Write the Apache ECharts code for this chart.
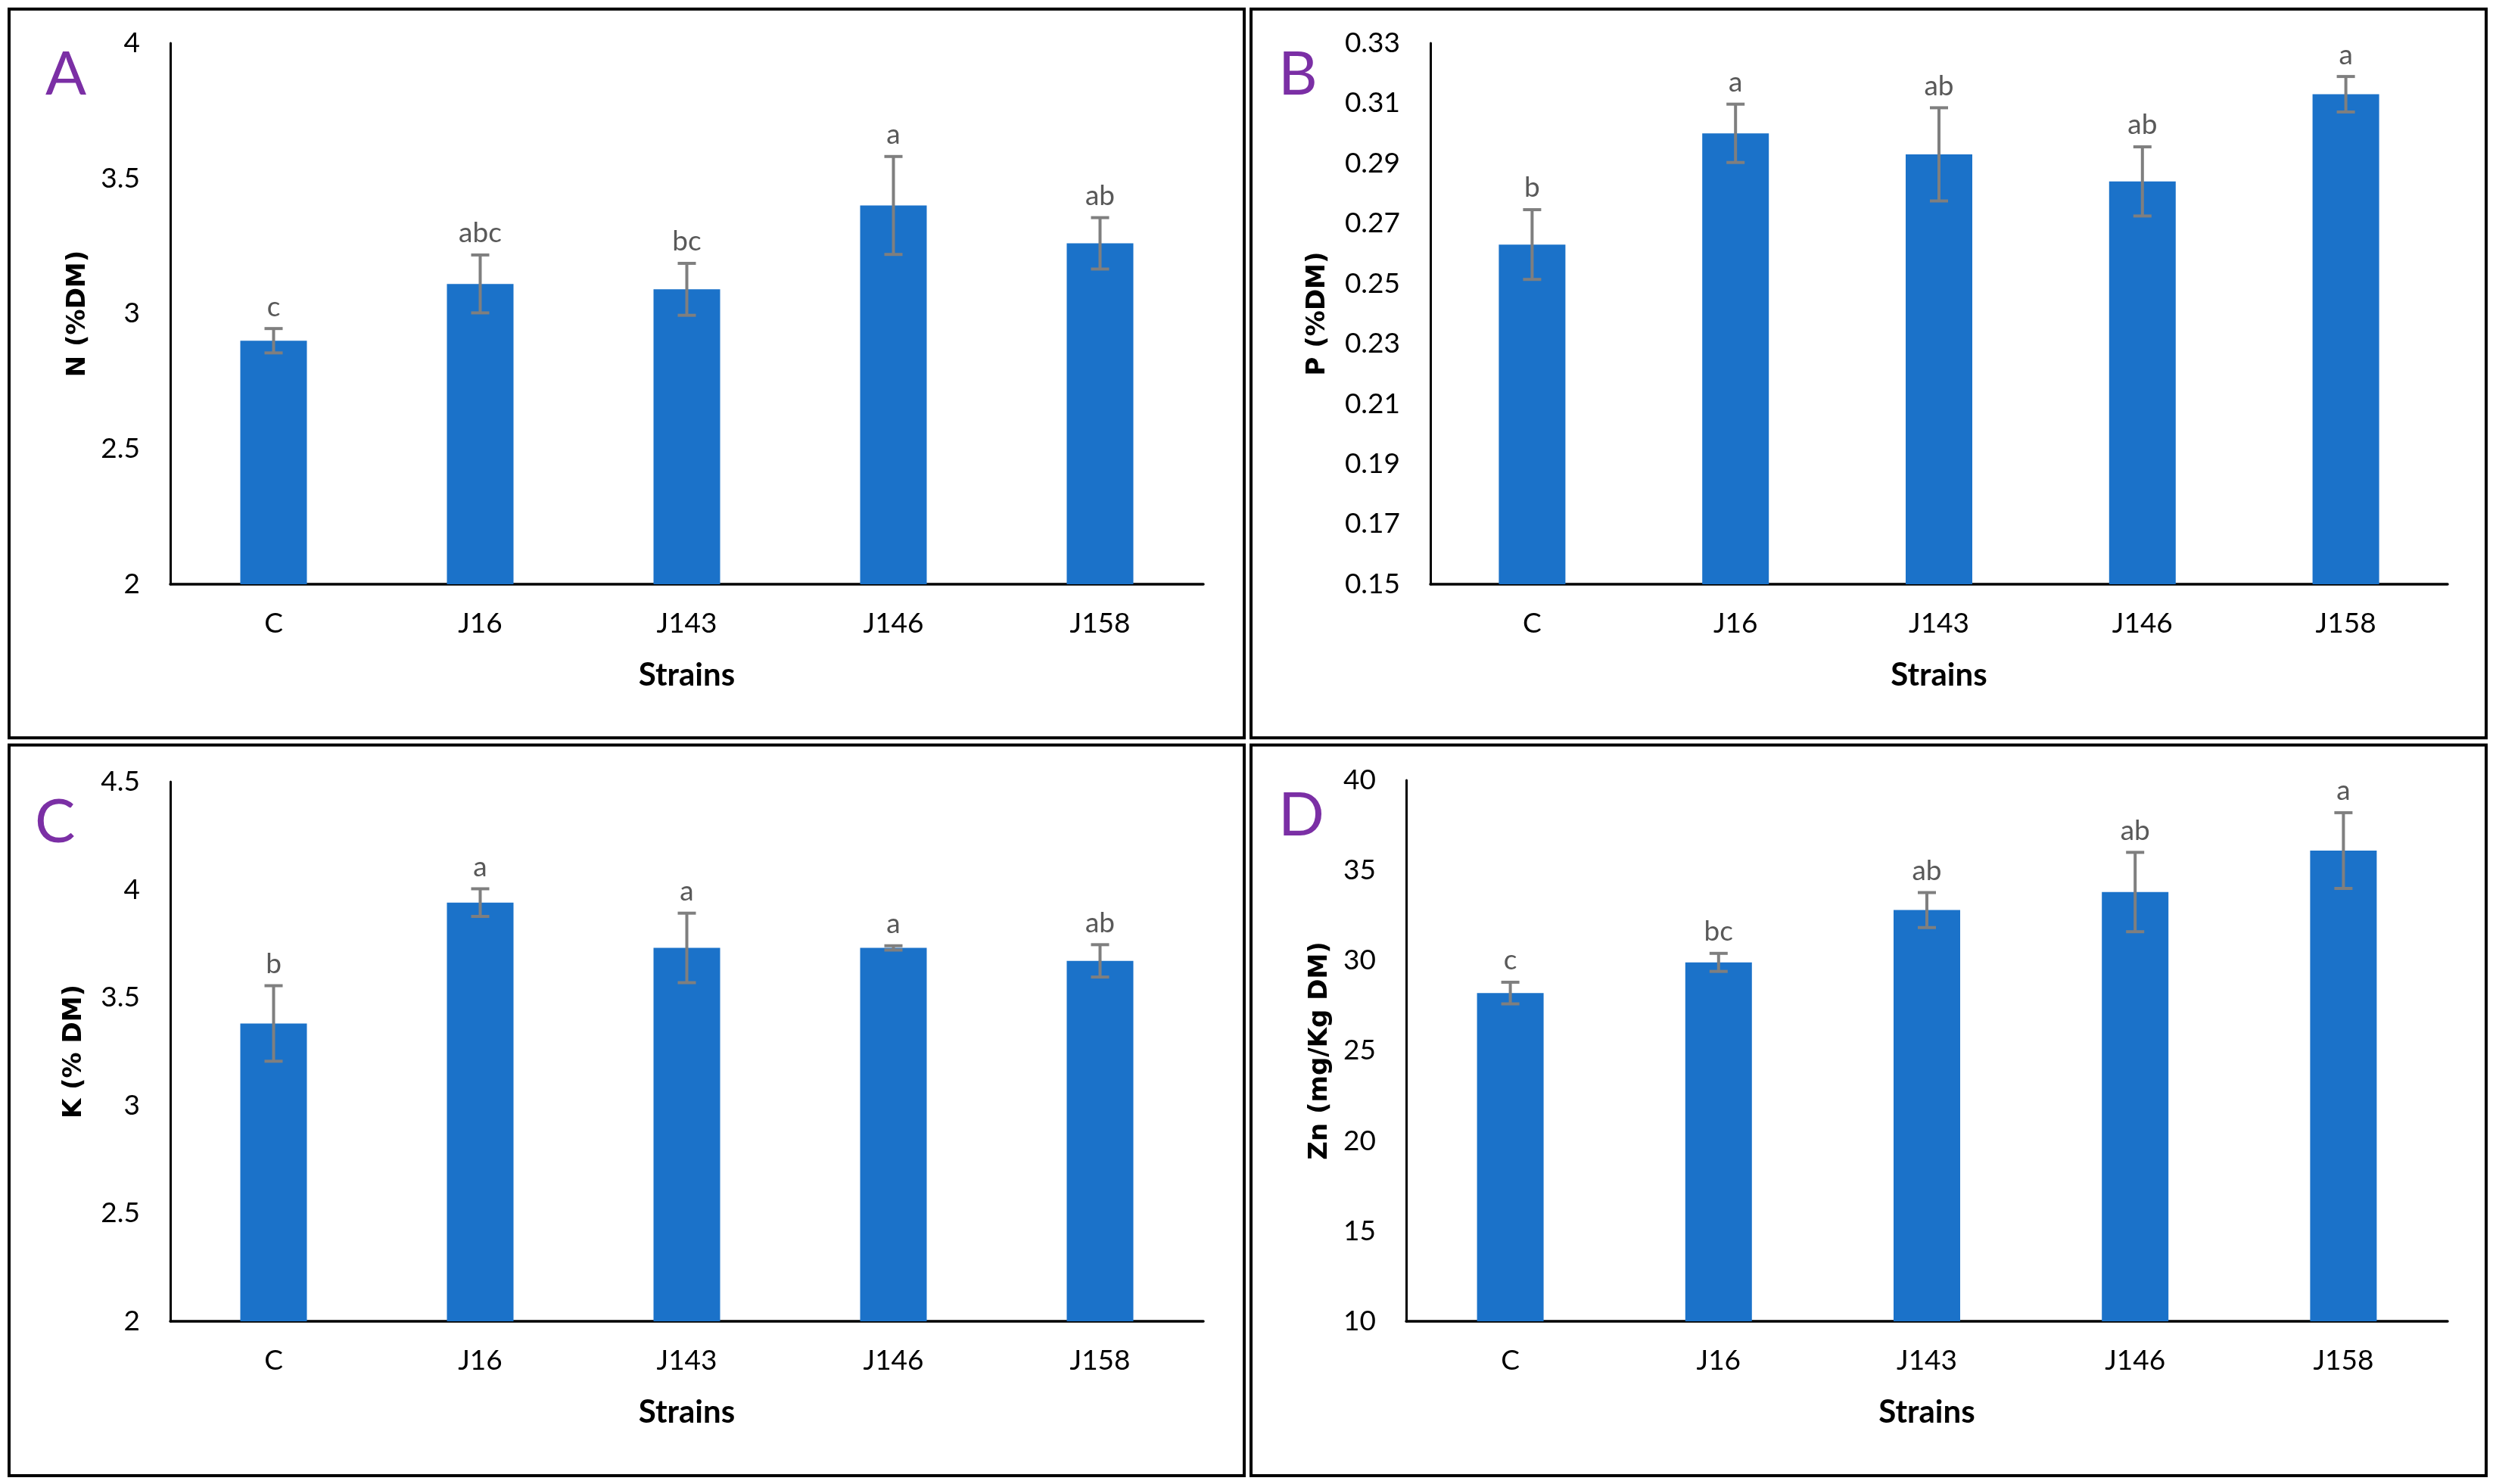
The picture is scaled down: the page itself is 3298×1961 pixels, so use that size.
<!DOCTYPE html>
<html>
<head>
<meta charset="utf-8">
<script src="https://cdn.jsdelivr.net/npm/echarts@6/dist/echarts.min.js"></script>
<style>
html,body{margin:0;padding:0;background:#fff;}
#chart{width:3298px;height:1961px;}
</style>
</head>
<body>
<div id="chart"></div>
<script>
// ---------- data ----------
const strains = ['C', 'J16', 'J143', 'J146', 'J158'];

const nMean = [2.90, 3.11, 3.09, 3.40, 3.26];
const nErr = [0.045, 0.107, 0.096, 0.181, 0.095];
const nLetters = ['c', 'abc', 'bc', 'a', 'ab'];

const pMean = [0.263, 0.300, 0.293, 0.284, 0.313];
const pErr = [0.0116, 0.0097, 0.0155, 0.0115, 0.0059];
const pLetters = ['b', 'a', 'ab', 'ab', 'a'];

const kMean = [3.38, 3.94, 3.73, 3.73, 3.67];
const kErr = [0.175, 0.064, 0.161, 0.010, 0.075];
const kLetters = ['b', 'a', 'a', 'a', 'ab'];

const znMean = [28.2, 29.9, 32.8, 33.8, 36.1];
const znErr = [0.6, 0.5, 0.97, 2.2, 2.1];
const znLetters = ['c', 'bc', 'ab', 'ab', 'a'];

const panelLetters = ['A', 'B', 'C', 'D'];
const yTitles = ['N (%DM)', 'P (%DM)', 'K (% DM)', 'Zn (mg/Kg DM)'];
const xTitle = 'Strains';

// ---------- styling ----------
const FONT = 'Lato';
const BAR_COLOR = '#1b72c9';
const ERR_COLOR = '#7f7f7f';
const LETTER_COLOR = '#595959';

const panels = [
  {mean: nMean, err: nErr, letters: nLetters, min: 2, max: 4, interval: 0.5, fmt: v => String(+v.toFixed(1)),
   grid: {left: 225, top: 57, width: 1365, height: 715}, nameGap: 105},
  {mean: pMean, err: pErr, letters: pLetters, min: 0.15, max: 0.33, interval: 0.01,
   fmt: v => { const k = Math.round(v * 100); return (k % 2 === 1) ? (k / 100).toFixed(2) : ''; },
   grid: {left: 1890, top: 57, width: 1344, height: 715}, nameGap: 132},
  {mean: kMean, err: kErr, letters: kLetters, min: 2, max: 4.5, interval: 0.5, fmt: v => String(+v.toFixed(1)),
   grid: {left: 225, top: 1033, width: 1365, height: 713}, nameGap: 110},
  {mean: znMean, err: znErr, letters: znLetters, min: 10, max: 40, interval: 5, fmt: v => String(Math.round(v)),
   grid: {left: 1858, top: 1031, width: 1376, height: 715}, nameGap: 97}
];

function errRenderer(letters) {
  return function (params, api) {
    const x = api.value(0), m = api.value(1), e = api.value(2);
    const top = api.coord([x, m + e]);
    const bot = api.coord([x, m - e]);
    const cx = top[0];
    const cap = 12;
    const ls = {stroke: ERR_COLOR, lineWidth: 4};
    return {
      type: 'group',
      children: [
        {type: 'line', shape: {x1: cx, y1: top[1], x2: cx, y2: bot[1]}, style: ls},
        {type: 'line', shape: {x1: cx - cap, y1: top[1], x2: cx + cap, y2: top[1]}, style: ls},
        {type: 'line', shape: {x1: cx - cap, y1: bot[1], x2: cx + cap, y2: bot[1]}, style: ls},
        {type: 'text', x: cx, y: top[1] - 10,
         style: {text: letters[params.dataIndex], align: 'center', verticalAlign: 'bottom',
                 fontSize: 37, fontFamily: FONT, fill: LETTER_COLOR}}
      ]
    };
  };
}

const option = {
  backgroundColor: '#ffffff',
  animation: false,
  grid: panels.map(p => Object.assign({containLabel: false}, p.grid)),
  xAxis: panels.map((p, i) => ({
    type: 'category', gridIndex: i, data: strains,
    name: xTitle, nameLocation: 'middle', nameGap: 99,
    nameTextStyle: {fontFamily: FONT, fontWeight: 'bold', fontSize: 42, color: '#000'},
    axisLine: {show: true, lineStyle: {color: '#000', width: 3.5}},
    axisTick: {show: false},
    axisLabel: {fontFamily: FONT, fontSize: 37, color: '#000', margin: 34},
    splitLine: {show: false}
  })),
  yAxis: panels.map((p, i) => ({
    type: 'value', gridIndex: i, min: p.min, max: p.max, interval: p.interval,
    name: yTitles[i], nameLocation: 'middle', nameGap: p.nameGap,
    nameTextStyle: {fontFamily: 'DejaVu Sans', fontWeight: 'bold', fontSize: 34, color: '#000'},
    axisLine: {show: true, lineStyle: {color: '#000', width: 3}},
    axisTick: {show: false},
    axisLabel: {fontFamily: FONT, fontSize: 37, color: '#000', margin: 40, formatter: p.fmt},
    splitLine: {show: false}
  })),
  series: [].concat(...panels.map((p, i) => [
    {type: 'bar', xAxisIndex: i, yAxisIndex: i, data: p.mean, barWidth: 88,
     itemStyle: {color: BAR_COLOR}},
    {type: 'custom', xAxisIndex: i, yAxisIndex: i,
     data: p.mean.map((m, j) => [j, m, p.err[j]]),
     renderItem: errRenderer(p.letters), z: 3}
  ])),
  graphic: [
    {type: 'rect', shape: {x: 12, y: 12, width: 1632, height: 963}, style: {fill: 'none', stroke: '#000', lineWidth: 4}},
    {type: 'rect', shape: {x: 1653, y: 12, width: 1632, height: 963}, style: {fill: 'none', stroke: '#000', lineWidth: 4}},
    {type: 'rect', shape: {x: 12, y: 984.5, width: 1632, height: 965.5}, style: {fill: 'none', stroke: '#000', lineWidth: 4}},
    {type: 'rect', shape: {x: 1653, y: 984.5, width: 1632, height: 965.5}, style: {fill: 'none', stroke: '#000', lineWidth: 4}},
    {type: 'text', x: 60, y: 99, style: {text: panelLetters[0], fontFamily: FONT, fontSize: 80, fill: '#7b2fa5', verticalAlign: 'middle'}},
    {type: 'text', x: 1689, y: 99, style: {text: panelLetters[1], fontFamily: FONT, fontSize: 80, fill: '#7b2fa5', verticalAlign: 'middle'}},
    {type: 'text', x: 46, y: 1087, style: {text: panelLetters[2], fontFamily: FONT, fontSize: 80, fill: '#7b2fa5', verticalAlign: 'middle'}},
    {type: 'text', x: 1689, y: 1078, style: {text: panelLetters[3], fontFamily: FONT, fontSize: 80, fill: '#7b2fa5', verticalAlign: 'middle'}}
  ]
};

const chart = echarts.init(document.getElementById('chart'), null, {renderer: 'canvas', width: 3298, height: 1961});
chart.setOption(option);
</script>
</body>
</html>
